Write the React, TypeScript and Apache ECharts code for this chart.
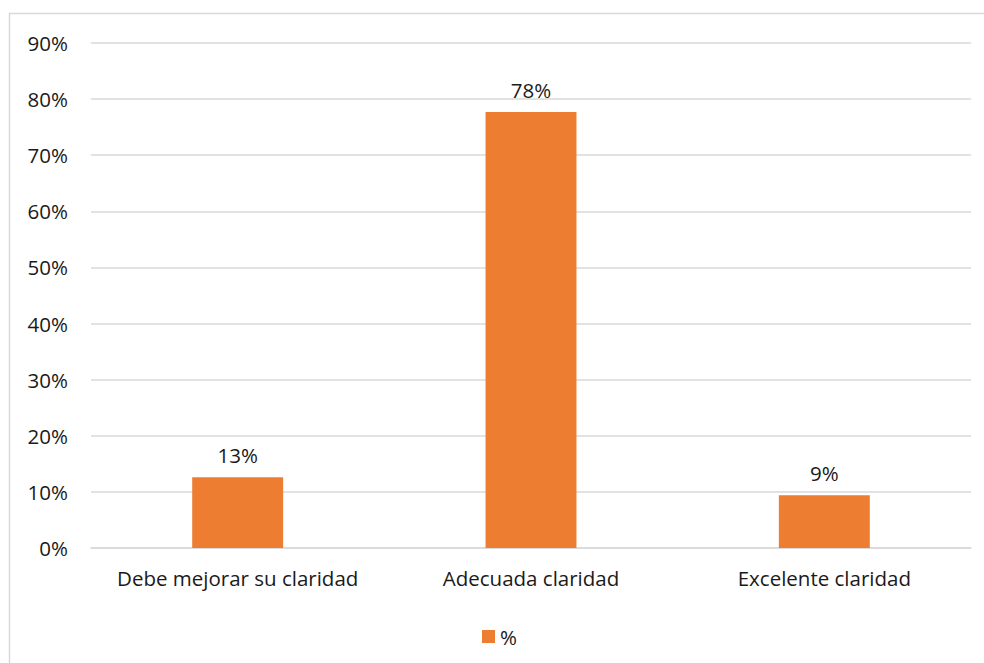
import React, { useEffect, useRef } from "react";
import * as echarts from "echarts";

const categories = ["Debe mejorar su claridad", "Adecuada claridad", "Excelente claridad"];
const values = [12.6, 77.7, 9.4];
const seriesName = "%";
const yTicks = [0, 10, 20, 30, 40, 50, 60, 70, 80, 90];

const FONT = "'Open Sans', 'Noto Sans', sans-serif";
const TEXT = "#1a1a1a";
const FS = 20.5;

export default function App() {
  const ref = useRef<HTMLDivElement>(null);
  useEffect(() => {
    if (!ref.current) return;
    const chart = echarts.init(ref.current, undefined, { renderer: "svg" });
    chart.setOption({
      animation: false,
      backgroundColor: "#ffffff",
      textStyle: { fontFamily: FONT },
      graphic: [
        {
          type: "polyline",
          shape: { points: [[9.5, 670], [9.5, 13.5], [990, 13.5]] },
          style: { fill: "none", stroke: "#d9d9d9", lineWidth: 1.5 },
          silent: true,
          z: -1,
        },
      ],
      grid: { left: 91, right: 13, top: 43, bottom: 115 },
      legend: {
        show: true,
        data: [seriesName],
        left: 477,
        top: 621,
        itemWidth: 13,
        itemHeight: 13,
        itemGap: 4,
        textStyle: { fontSize: FS, color: TEXT, fontFamily: FONT },
        icon: "rect",
      },
      xAxis: {
        type: "category",
        data: categories,
        axisLine: { show: true, lineStyle: { color: "#d9d9d9", width: 1.5 } },
        axisTick: { show: false },
        axisLabel: { fontSize: FS, color: TEXT, margin: 19, fontFamily: FONT, interval: 0 },
      },
      yAxis: {
        type: "value",
        min: 0,
        max: yTicks[yTicks.length - 1],
        interval: 10,
        axisLine: { show: false },
        axisTick: { show: false },
        axisLabel: {
          fontSize: FS,
          color: TEXT,
          margin: 23,
          fontFamily: FONT,
          formatter: (v: number) => `${v}%`,
        },
        splitLine: { lineStyle: { color: "#d9d9d9", width: 1.5 } },
      },
      series: [
        {
          name: seriesName,
          type: "bar",
          data: values,
          barWidth: "31%",
          itemStyle: { color: "#ED7D31" },
          label: {
            show: true,
            position: "top",
            distance: 12,
            fontSize: FS,
            color: TEXT,
            fontFamily: FONT,
            formatter: (p: any) => `${Math.round(p.value)}%`,
          },
        },
      ],
    });
    return () => chart.dispose();
  }, []);
  return (
    <div
      ref={ref}
      style={{ position: "fixed", left: 0, top: 0, width: 984, height: 663 }}
    />
  );
}
